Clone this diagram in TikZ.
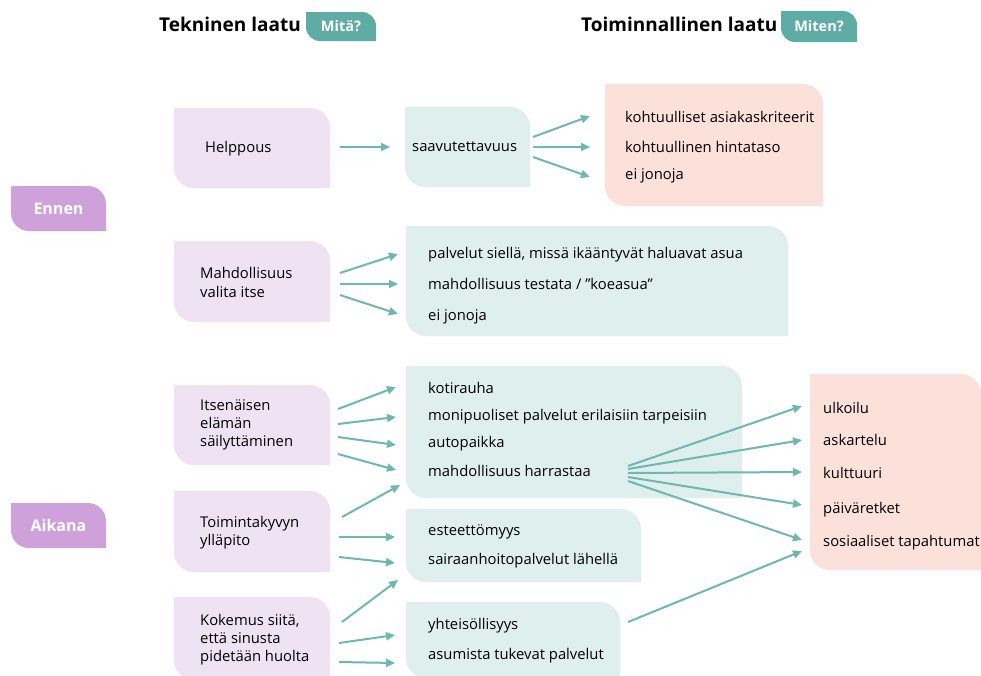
\documentclass[tikz,border=0pt]{standalone}
\usepackage{fontspec}
\setmainfont{Open Sans}
\usetikzlibrary{arrows.meta,calc}

\definecolor{lilac}{RGB}{239,226,242}
\definecolor{mauve}{RGB}{207,161,218}
\definecolor{mint}{RGB}{223,239,237}
\definecolor{peach}{RGB}{252,225,218}
\definecolor{seagreen}{RGB}{109,184,176}
\definecolor{tagteal}{RGB}{95,172,165}

% Box with rounded top-right and bottom-left corners
% #1 name, #2 x1, #3 y1, #4 x2, #5 y2 (pixel-like units, y downwards), #6 colour, #7 radius
\newcommand\leafbox[7]{%
  \node[boxarea, minimum width={(#4-#2)*1pt}, minimum height={(#5-#3)*1pt}, anchor=north west] (#1) at (#2,-#3) {};
  \fill[#6] (#1.north west) -- ([xshift=-#7]#1.north east)
    arc[start angle=90,end angle=0,radius=#7] -- (#1.south east)
    -- ([xshift=#7]#1.south west)
    arc[start angle=270,end angle=180,radius=#7] -- cycle;}

\tikzset{
  boxarea/.style={rectangle, inner sep=0pt, outer sep=0pt},
  txt/.style={anchor=west, inner sep=0pt, yshift=-3pt, font=\fontsize{14.8}{17.5}\selectfont, text height=0.75em, text depth=0.25em},
  hdr/.style={anchor=west, inner sep=0pt, yshift=-3pt, font=\fontsize{19}{23}\selectfont\bfseries, text height=0.75em, text depth=0.25em},
  tagtxt/.style={inner sep=0pt, text=white, font=\fontsize{14.5}{17}\selectfont\bfseries},
  phase/.style={inner sep=0pt, text=white, font=\fontsize{16}{19}\selectfont\bfseries},
  arr/.style={draw=seagreen, line width=2pt, -{Triangle[length=9pt,width=8pt]}}
}

\begin{document}
\begin{tikzpicture}[x=1pt,y=1pt]
\useasboundingbox (0,0) rectangle (981,-675);
\fill[white] (0,0) rectangle (981,-675);

% column headings
\node[hdr] (hTek) at (159,-26) {Tekninen laatu};
\leafbox{tagA}{306}{12}{376}{41}{tagteal}{14pt}
\node[tagtxt] (tagAt) at (tagA.center) {Mitä?};
\node[hdr] (hToi) at (581,-26) {Toiminnallinen laatu};
\leafbox{tagB}{781}{11}{857}{42}{tagteal}{14pt}
\node[tagtxt] (tagBt) at (tagB.center) {Miten?};

% phase labels
\leafbox{ennen}{11}{186}{106}{231}{mauve}{18pt}
\node[phase] (ennenT) at (ennen.center) {Ennen};
\leafbox{aikana}{11}{503}{106}{548}{mauve}{18pt}
\node[phase] (aikanaT) at (aikana.center) {Aikana};

% --- Ennen ---
\leafbox{help}{174}{108}{330}{188}{lilac}{20pt}
\node[txt] (helpT) at (205,-147) {Helppous};

\leafbox{saav}{405}{107}{530}{187}{mint}{20pt}
\node[txt] (saavT) at (412,-146) {saavutettavuus};

\leafbox{sA}{605}{84}{823}{206}{peach}{20pt}
\node[txt] (sA1) at (625,-117) {kohtuulliset asiakaskriteerit};
\node[txt] (sA2) at (625,-147) {kohtuullinen hintataso};
\node[txt] (sA3) at (625,-174) {ei jonoja};

\leafbox{mahd}{174}{241}{330}{322}{lilac}{20pt}
\node[txt] (mahd1) at (200,-273) {Mahdollisuus};
\node[txt] (mahd2) at (200,-292) {valita itse};

\leafbox{tB}{406}{226}{788}{336}{mint}{20pt}
\node[txt] (tB1) at (428,-253) {palvelut siellä, missä ikääntyvät haluavat asua};
\node[txt] (tB2) at (428,-284) {mahdollisuus testata / ”koeasua”};
\node[txt] (tB3) at (428,-315) {ei jonoja};

% --- Aikana ---
\leafbox{itse}{174}{385}{330}{465}{lilac}{20pt}
\node[txt] (itse1) at (200,-405) {Itsenäisen};
\node[txt] (itse2) at (200,-423) {elämän};
\node[txt] (itse3) at (200,-441) {säilyttäminen};

\leafbox{tC}{406}{366}{742}{498}{mint}{20pt}
\node[txt] (tC1) at (428,-388) {kotirauha};
\node[txt] (tC2) at (428,-415) {monipuoliset palvelut erilaisiin tarpeisiin};
\node[txt] (tC3) at (428,-442) {autopaikka};
\node[txt] (tC4) at (428,-471) {mahdollisuus harrastaa};

\leafbox{sB}{810}{374}{981}{570}{peach}{20pt}
\node[txt] (sB1) at (823,-408) {ulkoilu};
\node[txt] (sB2) at (823,-440) {askartelu};
\node[txt] (sB3) at (823,-473) {kulttuuri};
\node[txt] (sB4) at (823,-508) {päiväretket};
\node[txt] (sB5) at (823,-541) {sosiaaliset tapahtumat};

\leafbox{toim}{174}{491}{330}{572}{lilac}{20pt}
\node[txt] (toim1) at (200,-522) {Toimintakyvyn};
\node[txt] (toim2) at (200,-540) {ylläpito};

\leafbox{tD}{406}{509}{641}{582}{mint}{20pt}
\node[txt] (tD1) at (428,-530) {esteettömyys};
\node[txt] (tD2) at (428,-559) {sairaanhoitopalvelut lähellä};

\leafbox{koke}{174}{597}{330}{680}{lilac}{20pt}
\node[txt] (koke1) at (200,-620) {Kokemus siitä,};
\node[txt] (koke2) at (200,-638) {että sinusta};
\node[txt] (koke3) at (200,-656) {pidetään huolta};

\leafbox{tE}{406}{602}{620}{678}{mint}{20pt}
\node[txt] (tE1) at (428,-624) {yhteisöllisyys};
\node[txt] (tE2) at (428,-654) {asumista tukevat palvelut};

% arrow end points
\coordinate (hA) at (340,-147);  \coordinate (sAin) at (390,-147);
\coordinate (vA1) at (533,-137); \coordinate (pA1) at (590,-116);
\coordinate (vA2) at (533,-147); \coordinate (pA2) at (590,-147);
\coordinate (vA3) at (533,-157); \coordinate (pA3) at (590,-177);

\coordinate (mA1) at (340,-273); \coordinate (qB1) at (398,-254);
\coordinate (mA2) at (340,-284); \coordinate (qB2) at (398,-284);
\coordinate (mA3) at (340,-295); \coordinate (qB3) at (398,-314);

\coordinate (iA1) at (338,-409); \coordinate (qC1) at (396,-387);
\coordinate (iA2) at (338,-424); \coordinate (qC2) at (396,-417);
\coordinate (iA3) at (338,-437); \coordinate (qC3) at (396,-445);
\coordinate (iA4) at (338,-454); \coordinate (qC4) at (396,-470);

\coordinate (oA1) at (342,-517); \coordinate (qC5) at (400,-485);
\coordinate (oA2) at (339,-537); \coordinate (qD1) at (395,-537);
\coordinate (oA3) at (339,-557); \coordinate (qD2) at (395,-563);

\coordinate (kA1) at (342,-622); \coordinate (qD3) at (398,-580);
\coordinate (kA2) at (339,-643); \coordinate (qE1) at (395,-635);
\coordinate (kA3) at (339,-662); \coordinate (qE2) at (395,-663);

\coordinate (hr1) at (628,-466); \coordinate (rB1) at (802,-406);
\coordinate (hr2) at (628,-469); \coordinate (rB2) at (802,-440);
\coordinate (hr3) at (628,-473); \coordinate (rB3) at (802,-472);
\coordinate (hr4) at (628,-477); \coordinate (rB4) at (802,-505);
\coordinate (hr5) at (628,-481); \coordinate (rB5) at (802,-540);
\coordinate (yh1) at (628,-622); \coordinate (rB6) at (802,-551);

% connectors
\draw[arr] (hA) -- (sAin);
\foreach \i in {1,2,3} {\draw[arr] (vA\i) -- (pA\i);}
\foreach \i in {1,2,3} {\draw[arr] (mA\i) -- (qB\i);}
\foreach \i in {1,2,3,4} {\draw[arr] (iA\i) -- (qC\i);}
\draw[arr] (oA1) -- (qC5);
\draw[arr] (oA2) -- (qD1);
\draw[arr] (oA3) -- (qD2);
\draw[arr] (kA1) -- (qD3);
\draw[arr] (kA2) -- (qE1);
\draw[arr] (kA3) -- (qE2);
\foreach \i in {1,2,3,4,5} {\draw[arr] (hr\i) -- (rB\i);}
\draw[arr] (yh1) -- (rB6);
\end{tikzpicture}
\end{document}
